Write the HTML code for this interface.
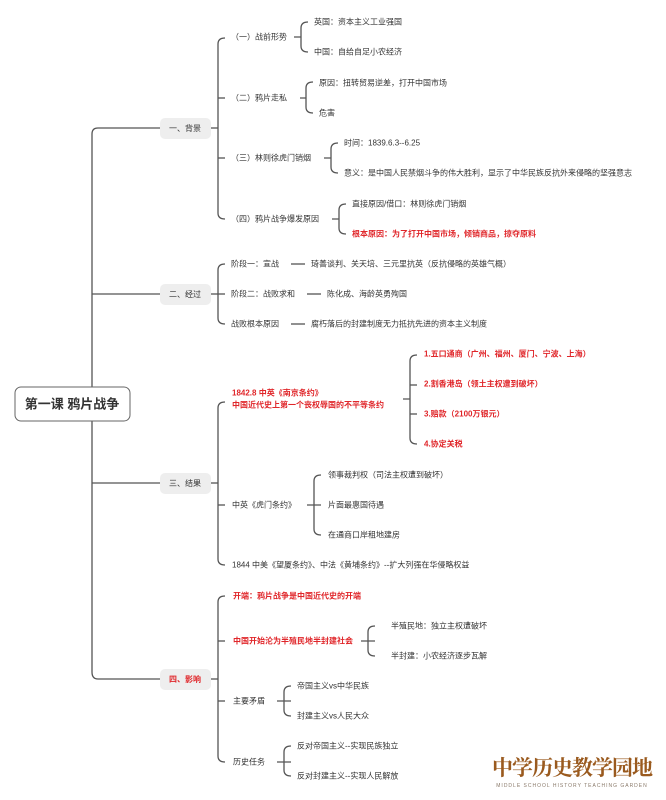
<!DOCTYPE html>
<html><head><meta charset="utf-8"><style>
html,body{margin:0;padding:0;background:#fff;}
svg{display:block;}
text{font-family:"Liberation Sans","Noto Sans CJK SC",sans-serif;font-size:8px;fill:#333;dominant-baseline:central;}
.r{fill:#e0262a;font-weight:bold;}
path,line{stroke:#555;stroke-width:1.3;fill:none;}
</style></head><body>
<svg width="666" height="800" viewBox="0 0 666 800" xmlns="http://www.w3.org/2000/svg">
<path d="M160,128 H98 Q92,128 92,134 V672 Q92,679 98,679 H160"/>
<line x1="92" y1="294" x2="160" y2="294"/>
<line x1="92" y1="483" x2="160" y2="483"/>
<rect x="15" y="387" width="115" height="34" rx="6" fill="#fff" stroke="#666" stroke-width="1"/>
<text x="72" y="404" text-anchor="middle" style="font-size:13px;font-weight:bold;fill:#333">第一课 鸦片战争</text>
<rect x="160" y="118" width="51" height="21" rx="5" fill="#eeeeee" stroke="none"/>
<text x="185" y="128.5" text-anchor="middle">一、背景</text>
<rect x="160" y="284" width="51" height="21" rx="5" fill="#eeeeee" stroke="none"/>
<text x="185" y="294.5" text-anchor="middle">二、经过</text>
<rect x="160" y="473" width="51" height="21" rx="5" fill="#eeeeee" stroke="none"/>
<text x="185" y="483.5" text-anchor="middle">三、结果</text>
<rect x="160" y="669" width="51" height="21" rx="5" fill="#eeeeee" stroke="none"/>
<text x="185" y="679.5" text-anchor="middle" class="r">四、影响</text>

<path d="M211,128 H218"/>
<path d="M225,38 Q218,38 218,44 V213 Q218,219 225,219"/>
<line x1="218" y1="98" x2="225" y2="98"/><line x1="218" y1="158" x2="225" y2="158"/>
<text x="231" y="37">（一）战前形势</text>
<text x="231" y="98">（二）鸦片走私</text>
<text x="231" y="158">（三）林则徐虎门销烟</text>
<text x="231" y="219">（四）鸦片战争爆发原因</text>
<path d="M294,37 H301 M308,22 Q301,22 301,28 V46 Q301,52 308,52"/>
<text x="314" y="22">英国：资本主义工业强国</text>
<text x="314" y="52">中国：自给自足小农经济</text>
<path d="M300,98 H306 M313,82 Q306,82 306,88 V107 Q306,113 313,113"/>
<text x="319" y="83">原因：扭转贸易逆差，打开中国市场</text>
<text x="319" y="113">危害</text>
<path d="M324,158 H331 M338,143 Q331,143 331,149 V167 Q331,173 338,173"/>
<text x="344" y="143">时间：1839.6.3--6.25</text>
<text x="344" y="173">意义：是中国人民禁烟斗争的伟大胜利，显示了中华民族反抗外来侵略的坚强意志</text>
<path d="M332,219 H339 M346,204 Q339,204 339,210 V228 Q339,234 346,234"/>
<text x="352" y="204">直接原因/借口：林则徐虎门销烟</text>
<text x="352" y="234" class="r">根本原因：为了打开中国市场，倾销商品，掠夺原料</text>

<path d="M211,294 H225"/>
<path d="M225,264 Q218,264 218,270 V318 Q218,324 225,324"/>
<text x="231" y="264">阶段一：宣战</text>
<text x="231" y="294">阶段二：战败求和</text>
<text x="231" y="324">战败根本原因</text>
<line x1="291" y1="264" x2="305" y2="264"/>
<line x1="307" y1="294" x2="321" y2="294"/>
<line x1="291" y1="324" x2="305" y2="324"/>
<text x="311" y="264">琦善谈判、关天培、三元里抗英（反抗侵略的英雄气概）</text>
<text x="327" y="294">陈化成、海龄英勇殉国</text>
<text x="311" y="324">腐朽落后的封建制度无力抵抗先进的资本主义制度</text>

<path d="M211,483 H218"/>
<path d="M225,402 Q218,402 218,408 V559 Q218,565 225,565"/>
<line x1="218" y1="505" x2="225" y2="505"/>
<text x="232" y="393" class="r">1842.8 中英《南京条约》</text>
<text x="232" y="405" class="r">中国近代史上第一个丧权辱国的不平等条约</text>
<path d="M403,399 H410 M417,355 Q410,355 410,361 V438 Q410,444 417,444"/>
<line x1="410" y1="385" x2="417" y2="385"/><line x1="410" y1="414" x2="417" y2="414"/>
<text x="424" y="354" class="r">1.五口通商（广州、福州、厦门、宁波、上海）</text>
<text x="424" y="384" class="r">2.割香港岛（领土主权遭到破坏）</text>
<text x="424" y="414" class="r">3.赔款（2100万银元）</text>
<text x="424" y="444" class="r">4.协定关税</text>
<text x="232" y="505">中英《虎门条约》</text>
<path d="M307,505 H321 M321,475 Q314,475 314,481 V529 Q314,535 321,535"/>
<text x="328" y="475">领事裁判权（司法主权遭到破坏）</text>
<text x="328" y="505">片面最惠国待遇</text>
<text x="328" y="535">在通商口岸租地建房</text>
<text x="232" y="565">1844 中美《望厦条约》、中法《黄埔条约》--扩大列强在华侵略权益</text>

<path d="M211,679 H218"/>
<path d="M225,596 Q218,596 218,602 V756 Q218,762 225,762"/>
<line x1="218" y1="641" x2="225" y2="641"/><line x1="218" y1="701" x2="225" y2="701"/>
<text x="233" y="596" class="r">开端：鸦片战争是中国近代史的开端</text>
<text x="233" y="641" class="r">中国开始沦为半殖民地半封建社会</text>
<path d="M361,641 H375 M375,626 Q368,626 368,632 V650 Q368,656 375,656"/>
<text x="391" y="626">半殖民地：独立主权遭破坏</text>
<text x="391" y="656">半封建：小农经济逐步瓦解</text>
<text x="233" y="701">主要矛盾</text>
<path d="M277,701 H291 M291,686 Q284,686 284,692 V710 Q284,716 291,716"/>
<text x="297" y="686">帝国主义vs中华民族</text>
<text x="297" y="716">封建主义vs人民大众</text>
<text x="233" y="762">历史任务</text>
<path d="M277,762 H291 M291,746 Q284,746 284,752 V770 Q284,776 291,776"/>
<text x="297" y="746">反对帝国主义--实现民族独立</text>
<text x="297" y="776">反对封建主义--实现人民解放</text>

<text x="572" y="767" text-anchor="middle" style="font-size:21px;font-weight:bold;fill:#9a5a1e;font-family:'Noto Serif CJK SC','Noto Sans CJK SC',serif;letter-spacing:-1px">中学历史教学园地</text>
<text x="572" y="786" text-anchor="middle" style="font-size:5px;fill:#8a7a6a;letter-spacing:1px">MIDDLE SCHOOL HISTORY TEACHING GARDEN</text>
</svg>
</body></html>
